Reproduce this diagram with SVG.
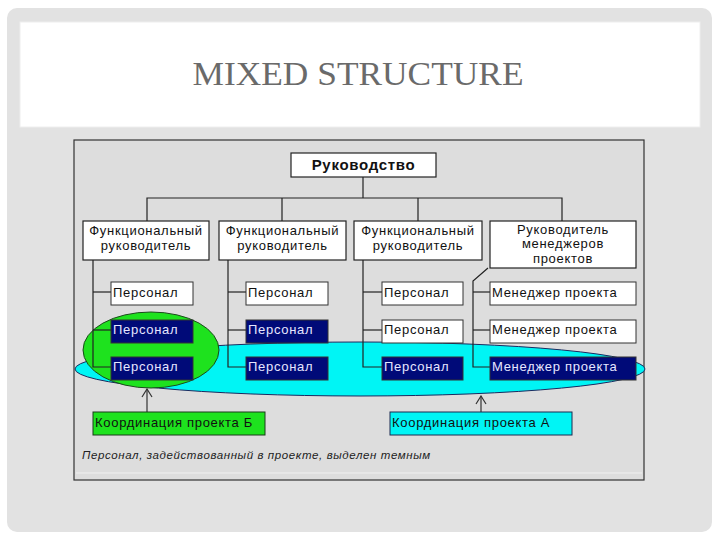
<svg xmlns="http://www.w3.org/2000/svg" width="720" height="540" viewBox="0 0 720 540">
<defs>
<style>
.frame{fill:#ffffff;stroke:#222;stroke-width:1.2}
.line{stroke:#222;stroke-width:1.2;fill:none}
.t{font-family:"Liberation Sans",Arial,sans-serif;font-size:13px;letter-spacing:0.7px;fill:#111}
.tc{text-anchor:middle}
.dark{fill:#000a78;stroke:#333;stroke-width:1}
.dt{fill:#e6e6ff}
.white{fill:#ffffff;stroke:#333;stroke-width:1}
</style>
<marker id="open" viewBox="0 0 12 12" refX="11" refY="6" markerWidth="12" markerHeight="12" markerUnits="userSpaceOnUse" orient="auto">
<polyline points="3,1 11,6 3,11" fill="none" stroke="#333" stroke-width="1.2"/>
</marker>
</defs>
<rect x="0" y="0" width="720" height="540" fill="#ffffff"/>
<rect x="7" y="8" width="705" height="524" rx="10" fill="#e2e2e2"/>
<rect x="20" y="22" width="680" height="105" fill="#ffffff" stroke="#eeeeee" stroke-width="1"/>
<text x="358" y="85" text-anchor="middle" font-family="'Liberation Serif','Times New Roman',serif" font-size="33" fill="#6a6a6a" textLength="331" lengthAdjust="spacingAndGlyphs">MIXED STRUCTURE</text>

<rect x="74" y="140" width="570" height="340" fill="#dddddd" stroke="#333" stroke-width="1.2"/>
<line x1="76" y1="473" x2="642" y2="473" stroke="#f0f0f0" stroke-width="1"/>

<g id="project-a-area">
<ellipse cx="360" cy="369" rx="285" ry="27" fill="#00f5f5" stroke="#1a2a60" stroke-width="1"/>
</g>
<g id="project-b-area">
<ellipse cx="151" cy="350" rx="68" ry="38" fill="#1ee21e" stroke="#1a4a1a" stroke-width="1"/>
</g>

<g id="connectors">
<polyline class="line" points="363,177 363,198"/>
<polyline class="line" points="147,221 147,198 562,198 562,221"/>
<line class="line" x1="282" y1="198" x2="282" y2="221"/>
<line class="line" x1="418" y1="198" x2="418" y2="221"/>
<polyline class="line" points="93,260 93,367 111,367"/>
<line class="line" x1="93" y1="292" x2="111" y2="292"/>
<line class="line" x1="93" y1="330" x2="111" y2="330"/>
<polyline class="line" points="228,260 228,367 246,367"/>
<line class="line" x1="228" y1="292" x2="246" y2="292"/>
<line class="line" x1="228" y1="330" x2="246" y2="330"/>
<polyline class="line" points="363,260 363,367 382,367"/>
<line class="line" x1="363" y1="292" x2="382" y2="292"/>
<line class="line" x1="363" y1="330" x2="382" y2="330"/>
<polyline class="line" points="488,268 473,281 473,367 490,367"/>
<line class="line" x1="473" y1="292" x2="490" y2="292"/>
<line class="line" x1="473" y1="330" x2="490" y2="330"/>
<line x1="147" y1="412" x2="147" y2="389" stroke="#333" stroke-width="1.2" marker-end="url(#open)"/>
<line x1="481" y1="412" x2="481" y2="396" stroke="#333" stroke-width="1.2" marker-end="url(#open)"/>
</g>

<g id="top">
<rect class="frame" x="291" y="153" width="145" height="24"/>
<text class="t tc" x="363.5" y="170" font-weight="bold" style="font-size:15px">Руководство</text>
</g>
<g id="func1">
<rect class="frame" x="83" y="221" width="126" height="39"/>
<text class="t tc" x="146" y="235">Функциональный</text>
<text class="t tc" x="146" y="250">руководитель</text>
</g>
<g id="func2">
<rect class="frame" x="219" y="221" width="127" height="39"/>
<text class="t tc" x="282.5" y="235">Функциональный</text>
<text class="t tc" x="282.5" y="250">руководитель</text>
</g>
<g id="func3">
<rect class="frame" x="354" y="221" width="128" height="39"/>
<text class="t tc" x="418" y="235">Функциональный</text>
<text class="t tc" x="418" y="250">руководитель</text>
</g>
<g id="pm-head">
<rect class="frame" x="490" y="221" width="146" height="47"/>
<text class="t tc" x="563" y="234">Руководитель</text>
<text class="t tc" x="563" y="248">менеджеров</text>
<text class="t tc" x="563" y="263">проектов</text>
</g>

<g id="c1r1"><rect class="white" x="111" y="282" width="82" height="23"/><text class="t" x="113" y="297">Персонал</text></g>
<g id="c2r1"><rect class="white" x="246" y="282" width="82" height="23"/><text class="t" x="248" y="297">Персонал</text></g>
<g id="c3r1"><rect class="white" x="382" y="282" width="81" height="23"/><text class="t" x="384" y="297">Персонал</text></g>
<g id="c4r1"><rect class="white" x="490" y="282" width="146" height="23"/><text class="t" x="492" y="297">Менеджер проекта</text></g>

<g id="c1r2"><rect class="dark" x="111" y="320" width="82" height="23"/><text class="t dt" x="113" y="334">Персонал</text></g>
<g id="c2r2"><rect class="dark" x="246" y="320" width="82" height="23"/><text class="t dt" x="248" y="334">Персонал</text></g>
<g id="c3r2"><rect class="white" x="382" y="320" width="81" height="23"/><text class="t" x="384" y="334">Персонал</text></g>
<g id="c4r2"><rect class="white" x="490" y="320" width="146" height="23"/><text class="t" x="492" y="334">Менеджер проекта</text></g>

<g id="c1r3"><rect class="dark" x="111" y="357" width="82" height="23"/><text class="t dt" x="113" y="371">Персонал</text></g>
<g id="c2r3"><rect class="dark" x="246" y="357" width="82" height="23"/><text class="t dt" x="248" y="371">Персонал</text></g>
<g id="c3r3"><rect class="dark" x="382" y="357" width="81" height="23"/><text class="t dt" x="384" y="371">Персонал</text></g>
<g id="c4r3"><rect class="dark" x="490" y="357" width="146" height="23"/><text class="t dt" x="492" y="371">Менеджер проекта</text></g>

<g id="coord-b">
<rect x="93" y="412" width="172" height="23" fill="#1ee21e" stroke="#1a3a1a" stroke-width="1"/>
<text class="t" x="95" y="427">Координация проекта Б</text>
</g>
<g id="coord-a">
<rect x="390" y="412" width="182" height="23" fill="#00f5f5" stroke="#1a2a50" stroke-width="1"/>
<text class="t" x="392" y="427">Координация проекта А</text>
</g>

<text x="82" y="459" font-family="'Liberation Sans',Arial,sans-serif" font-size="11.5" font-style="italic" letter-spacing="0.6" fill="#222">Персонал, задействованный в проекте, выделен темным</text>
</svg>
